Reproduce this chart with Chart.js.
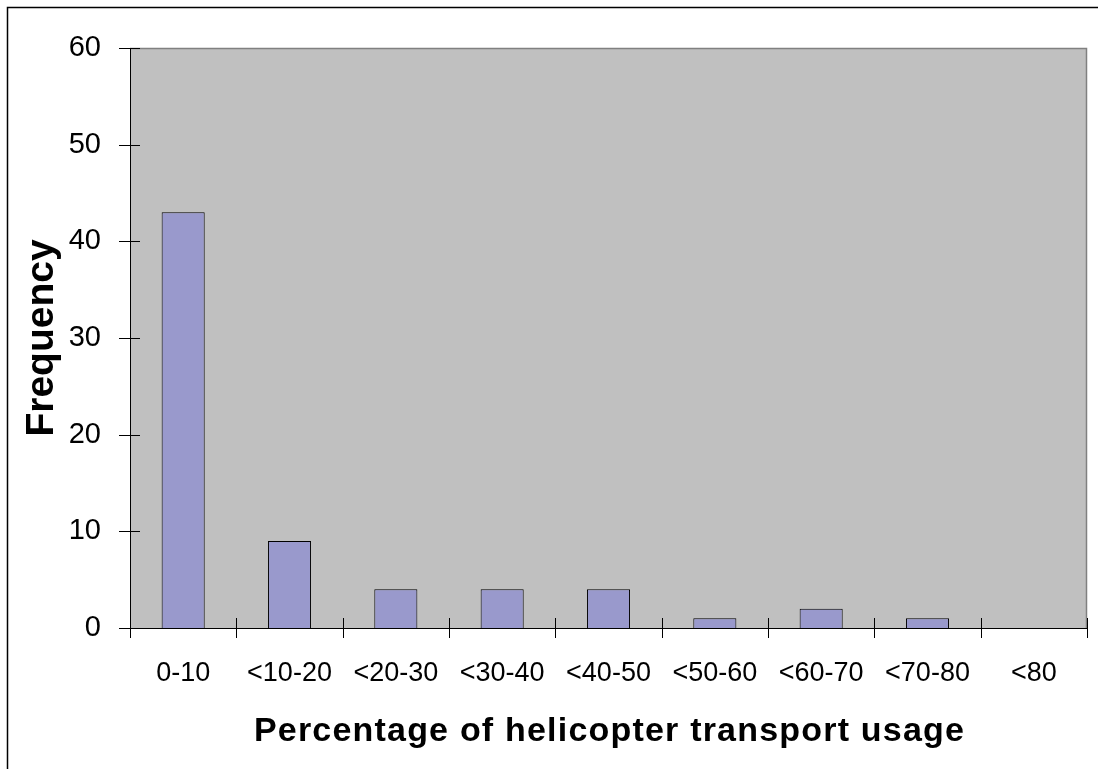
<!DOCTYPE html>
<html>
<head>
<meta charset="utf-8">
<script src="https://cdn.jsdelivr.net/npm/chart.js@4/dist/chart.umd.min.js"></script>
<style>
  html, body { margin: 0; padding: 0; background: #ffffff; overflow: hidden; }
  #c { position: absolute; left: 0; top: 0; }
</style>
</head>
<body>
<canvas id="c" width="1098" height="769"></canvas>
<script>
// Histogram data: share of transport done by helicopter, grouped in 10% bands
const categories = ['0-10', '<10-20', '<20-30', '<30-40', '<40-50', '<50-60', '<60-70', '<70-80', '<80'];
const frequency = [43, 9, 4, 4, 4, 1, 2, 1, 0];
const yTicks = [0, 10, 20, 30, 40, 50, 60];
const xTitle = 'Percentage of helicopter transport usage';
const yTitle = 'Frequency';

const FONT = "'Liberation Sans', Arial, sans-serif";

// Plot background, plot border, outer frame, cross-axis tick marks and axis titles
const chartDecor = {
  id: 'chartDecor',
  beforeDraw(chart) {
    const { ctx, chartArea: a, width, height } = chart;
    ctx.save();
    ctx.fillStyle = '#ffffff';
    ctx.fillRect(0, 0, width, height);
    // outer frame (runs off the right and bottom edges)
    ctx.strokeStyle = '#000000';
    ctx.lineWidth = 1.5;
    ctx.strokeRect(7.5, 7.5, width + 20, height + 20);
    // plot area
    ctx.fillStyle = '#C0C0C0';
    ctx.fillRect(a.left, a.top, a.right - a.left, a.bottom - a.top);
    ctx.strokeStyle = '#808080';
    ctx.lineWidth = 1.5;
    ctx.beginPath();
    ctx.moveTo(a.left, a.top + 0.5);
    ctx.lineTo(a.right - 0.5, a.top + 0.5);
    ctx.lineTo(a.right - 0.5, a.bottom);
    ctx.stroke();
    ctx.restore();
  },
  afterDraw(chart) {
    const { ctx, chartArea: a } = chart;
    const ys = chart.scales.y;
    ctx.save();
    ctx.strokeStyle = '#000000';
    ctx.lineWidth = 1;
    ctx.beginPath();
    yTicks.forEach(v => {
      const y = Math.round(ys.getPixelForValue(v)) + 0.5;
      ctx.moveTo(a.left - 11, y);
      ctx.lineTo(a.left + 10, y);
    });
    const n = categories.length;
    for (let i = 0; i <= n; i++) {
      const x = Math.round(a.left + i * (a.right - a.left) / n) + 0.5;
      ctx.moveTo(x, a.bottom - 10);
      ctx.lineTo(x, a.bottom + 10);
    }
    ctx.stroke();

    // axis titles
    ctx.fillStyle = '#000000';
    ctx.textAlign = 'center';
    ctx.textBaseline = 'alphabetic';
    ctx.font = 'bold 34px ' + FONT;
    ctx.letterSpacing = '1.2px';
    ctx.fillText(xTitle, (a.left + a.right) / 2 + 1, 741);

    ctx.letterSpacing = '0px';
    ctx.translate(53, (a.top + a.bottom) / 2);
    ctx.rotate(-Math.PI / 2);
    ctx.font = 'bold 39px ' + FONT;
    ctx.fillText(yTitle, 0, 0);
    ctx.restore();
  }
};

new Chart(document.getElementById('c'), {
  type: 'bar',
  data: {
    labels: categories,
    datasets: [{
      label: yTitle,
      data: frequency,
      backgroundColor: '#9999CC',
      borderColor: '#000000',
      borderWidth: 1,
      categoryPercentage: 1,
      barPercentage: 0.405
    }]
  },
  options: {
    responsive: false,
    animation: false,
    devicePixelRatio: 1,
    layout: { padding: { top: 48, right: 11, left: 0, bottom: 0 } },
    plugins: {
      legend: { display: false },
      tooltip: { enabled: false },
      title: { display: false }
    },
    scales: {
      x: {
        type: 'category',
        grid: { display: false, drawTicks: false, offset: true },
        border: { display: true, color: '#000000', width: 1 },
        ticks: {
          color: '#000000',
          font: { family: FONT, size: 27 },
          padding: 29,
          maxRotation: 0,
          autoSkip: false
        },
        afterFit(scale) { scale.height = 141; }
      },
      y: {
        min: 0,
        max: 60,
        grid: { display: false, drawTicks: false },
        border: { display: true, color: '#000000', width: 1 },
        ticks: {
          stepSize: 10,
          color: '#000000',
          font: { family: FONT, size: 29 },
          padding: 29
        },
        afterFit(scale) { scale.width = 130; }
      }
    }
  },
  plugins: [chartDecor]
});
</script>
</body>
</html>
